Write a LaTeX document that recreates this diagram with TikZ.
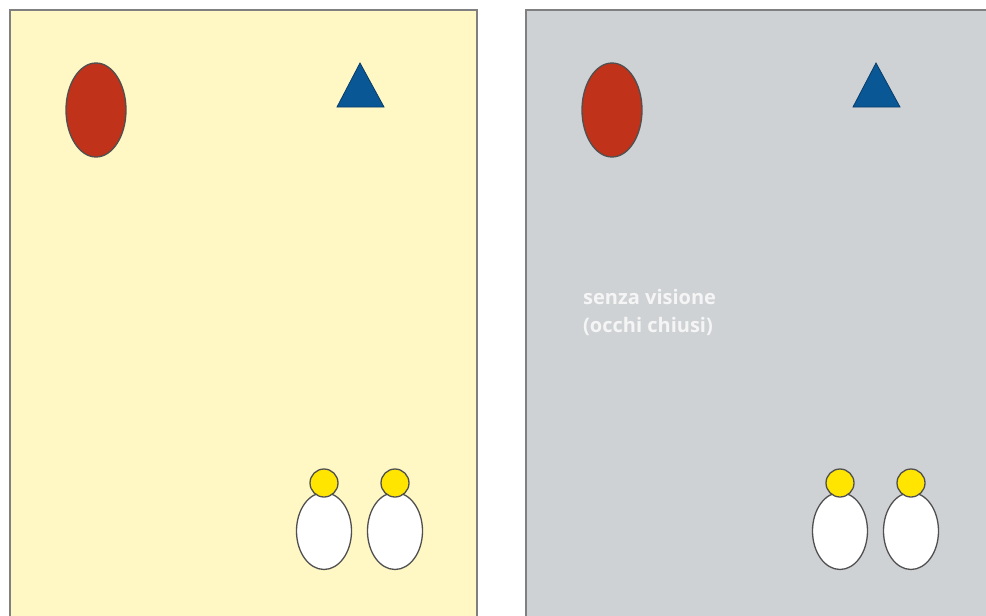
\documentclass[tikz,border=0pt]{standalone}
\usepackage{fontspec}
\setsansfont{Open Sans}
\usepackage{tikz}
\usetikzlibrary{shapes.geometric}
\definecolor{pale}{RGB}{255,248,196}
\definecolor{slate}{RGB}{207,210,213}
\definecolor{brick}{RGB}{192,50,26}
\definecolor{navy}{RGB}{10,87,150}
\definecolor{lemon}{RGB}{255,229,0}
\definecolor{rim}{RGB}{80,80,80}

\begin{document}
\begin{tikzpicture}[x=1pt,y=-1pt,
  panel/.style={draw=gray,line width=1.5pt},
  outl/.style={draw=rim,line width=1.3pt}]
\useasboundingbox (0,0) rectangle (986,616);
\fill[white] (0,0) rectangle (986,616);
% two panels, the right one shifted by 516
\draw[panel,fill=pale] (10,10) rectangle (477,630);
\draw[panel,fill=slate] (526,10) rectangle (1000,630);
\foreach \dx in {0,516} {
  \draw[outl,fill=brick] (96+\dx,110) ellipse (30 and 47);
  \draw[draw=navy!70!black,line width=0.8pt,fill=navy] (360+\dx,63) -- (384+\dx,107) -- (337+\dx,107) -- cycle;
  % two people, body first then head
  \foreach \px in {324,395} {
    \draw[outl,fill=white] (\px+\dx,531) ellipse (27.5 and 38.5);
    \draw[outl,fill=lemon] (\px+\dx,483) circle (14);
  }
}
% base anchor sits on the last line
\node[font=\sffamily\bfseries\fontsize{20}{28}\selectfont,text=white!96!black,align=left,anchor=base west,inner sep=0pt] (blind) at (583,332) {senza visione\\(occhi chiusi)};
\end{tikzpicture}
\end{document}
